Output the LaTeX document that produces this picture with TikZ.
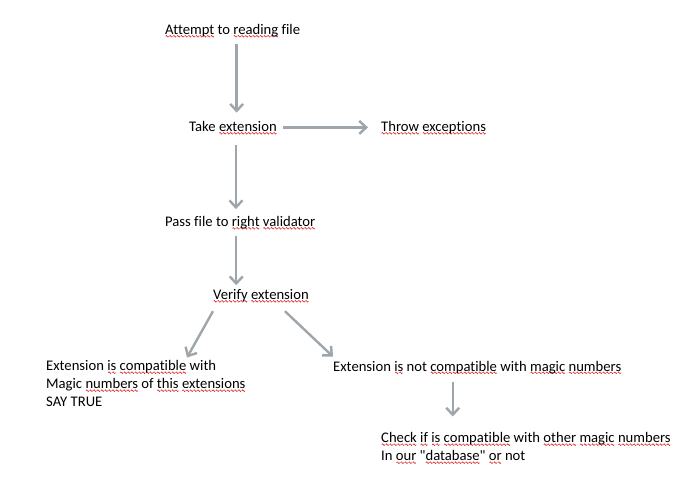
\documentclass[tikz,border=0pt]{standalone}
\usepackage{fontspec}
\setmainfont{Carlito}[Ligatures={TeXOff,NoCommon}]
\usepackage{tikz}
\usetikzlibrary{arrows.meta}
\definecolor{arrowgrey}{RGB}{158,166,171}
\definecolor{spellred}{RGB}{220,40,40}
\newsavebox\wavebox
\newsavebox\wordbox
\AtBeginDocument{\sbox\wavebox{\begin{pgfpicture}
  \pgfsetcolor{spellred}\pgfsetlinewidth{0.6pt}\pgfsetroundjoin
  \pgfpathmoveto{\pgfpoint{0pt}{0pt}}
  \pgfpathlineto{\pgfpoint{0.75pt}{0.9pt}}
  \pgfpathlineto{\pgfpoint{2.25pt}{-0.9pt}}
  \pgfpathlineto{\pgfpoint{3pt}{0pt}}
  \pgfusepath{stroke}
  \pgfusepath{use as bounding box}
\end{pgfpicture}}}
\newcommand\sq[1]{\leavevmode\sbox\wordbox{#1}\rlap{\lower3pt\hbox to\wd\wordbox{\xleaders\copy\wavebox\hfill}}\usebox\wordbox}
\tikzset{step text/.style={inner sep=0pt,anchor=base west,font=\fontsize{14.65}{18}\selectfont}}
\tikzset{block text/.style={inner sep=0pt,anchor=north west,align=left,font=\fontsize{14.65}{18}\selectfont}}
\tikzset{flow/.style={draw=arrowgrey,line width=2.4pt,-{Straight Barb[length=7pt,width=13pt]}}}

\begin{document}
\begin{tikzpicture}[x=1pt,y=-1pt]
    \useasboundingbox (0,0) rectangle (687,495);
    \node[step text] (attempt) at (165,34.5) {\sq{Attempt} to \sq{reading} file};
    \node[step text] (take) at (189,131.5) {Take \sq{extension}};
    \node[step text] (throw) at (381,131.5) {\sq{Throw} \sq{exceptions}};
    \node[step text] (pass) at (165,226.5) {Pass file to \sq{right} \sq{validator}};
    \node[step text] (verify) at (213,299.5) {\sq{Verify} \sq{extension}};
    \node[block text] (comp) at (46,360.5) {Extension \sq{is} \sq{compatible} with\\Magic \sq{numbers} of \sq{this} \sq{extensions}\\SAY TRUE};
    \node[step text] (notcomp) at (333,371) {Extension \sq{is} not \sq{compatible} with \sq{magic} \sq{numbers}};
    \node[block text] (check) at (381,432.5) {\sq{Check} \sq{if} \sq{is} \sq{compatible} with \sq{other} \sq{magic} \sq{numbers}\\In \sq{our} "\sq{database}" \sq{or} not};
    \draw[flow,shorten <=6.5pt,shorten >=8.5pt] ([xshift=4pt]attempt.south) -- ([xshift=4pt]attempt.south |- take.north);
    \draw[flow,shorten <=6pt,shorten >=13pt] ([yshift=0.5pt]take.east) -- ([yshift=0.5pt]take.east -| throw.west);
    \draw[flow,shorten <=10.5pt,shorten >=7pt] ([xshift=3pt]take.south) -- ([xshift=3pt]take.south |- pass.north);
    \draw[flow,shorten <=6.5pt,shorten >=4pt] ([xshift=-4pt]pass.south) -- ([xshift=-4pt]pass.south |- verify.north);
    \draw[flow] ([yshift=-8.5pt]verify.south west) -- ([xshift=141pt,yshift=3pt]comp.north west);
    \draw[flow] ([xshift=-24pt,yshift=-8.5pt]verify.south east) -- ([yshift=4pt]notcomp.north west);
    \draw[flow,shorten <=8pt,shorten >=16pt] ([xshift=-24.5pt]notcomp.south) -- ([xshift=-24.5pt]notcomp.south |- check.north);
\end{tikzpicture}
\end{document}
